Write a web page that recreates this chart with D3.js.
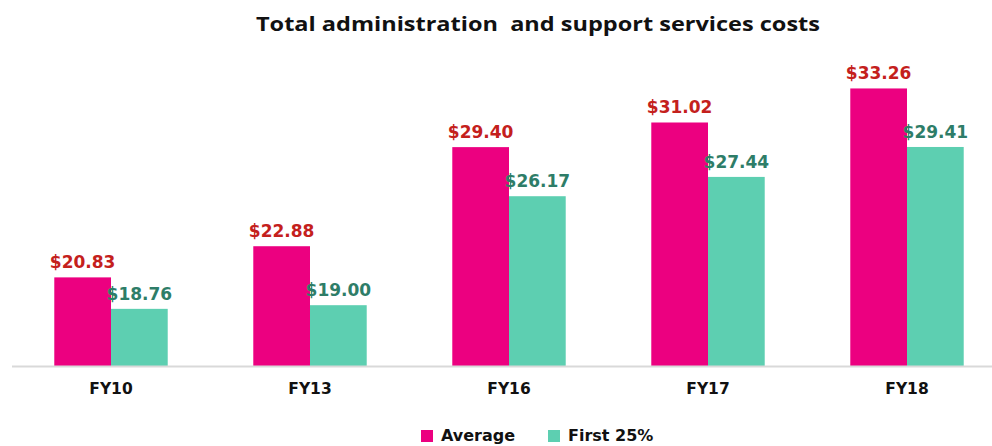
<!DOCTYPE html>
<html>
<head>
<meta charset="utf-8">
<script src="https://cdn.jsdelivr.net/npm/d3@7/dist/d3.min.js"></script>
<style>
  html, body { margin: 0; padding: 0; background: #fff; }
  svg { display: block; }
</style>
</head>
<body>
<svg id="chart" width="992" height="446"></svg>
<script>
const categories = ["FY10", "FY13", "FY16", "FY17", "FY18"];
const seriesNames = ["Average", "First 25%"];
const averageValues = [20.83, 22.88, 29.40, 31.02, 33.26];
const first25Values = [18.76, 19.00, 26.17, 27.44, 29.41];
const seriesColors = ["#EC0080", "#5DCFB1"];
const labelColors = ["#C4201C", "#2E7D68"];
const titleText = "Total administration  and support services costs";

const seriesValues = [averageValues, first25Values];
const svg = d3.select("#chart");
const W = 992, H = 446;

const x = d3.scaleBand().domain(categories).range([11.5, 1006.5])
  .paddingInner(0.43).paddingOuter(0.215);
const xs = d3.scaleBand().domain(seriesNames).range([0, x.bandwidth()]).padding(0);
const y = d3.scaleLinear().domain([15, 35]).range([366, 62]);

// title
svg.append("text")
  .attr("x", 538).attr("y", 31)
  .attr("text-anchor", "middle")
  .attr("font-family", "'Open Sans', sans-serif")
  .attr("font-weight", "bold")
  .attr("font-size", 20)
  .attr("fill", "#111")
  .attr("textLength", 564)
  .attr("lengthAdjust", "spacingAndGlyphs")
  .attr("xml:space", "preserve")
  .style("white-space", "pre")
  .text(titleText);

// bars
const groups = svg.append("g").selectAll("g")
  .data(categories).join("g")
  .attr("transform", d => `translate(${x(d)},0)`);

seriesNames.forEach((s, si) => {
  groups.append("rect")
    .attr("x", xs(s))
    .attr("width", xs.bandwidth())
    .attr("y", (d, i) => y(seriesValues[si][i]))
    .attr("height", (d, i) => y(15) - y(seriesValues[si][i]))
    .attr("fill", seriesColors[si]);
  groups.append("text")
    .attr("x", xs(s) + xs.bandwidth() / 2)
    .attr("y", (d, i) => y(seriesValues[si][i]) - 9)
    .attr("text-anchor", "middle")
    .attr("font-family", "'DejaVu Sans', sans-serif")
    .attr("font-weight", "bold")
    .attr("font-size", 17)
    .attr("fill", labelColors[si])
    .text((d, i) => "$" + seriesValues[si][i].toFixed(2));
});

// baseline
svg.append("line")
  .attr("x1", 12).attr("x2", W)
  .attr("y1", y(15) + 0.5).attr("y2", y(15) + 0.5)
  .attr("stroke", "#d9d9d9").attr("stroke-width", 2);

// x axis labels
const xAxis = d3.axisBottom(x).tickSize(0).tickPadding(0);
const axG = svg.append("g").attr("transform", `translate(0,${394})`).call(xAxis);
axG.select(".domain").remove();
axG.selectAll("text")
  .attr("dy", 0).attr("y", 0)
  .attr("font-family", "'DejaVu Sans', sans-serif")
  .attr("font-weight", "bold")
  .attr("font-size", 15.5)
  .attr("fill", "#111");

// legend
const legendX = [421, 548];
const legend = svg.append("g");
seriesNames.forEach((s, si) => {
  legend.append("rect")
    .attr("x", legendX[si]).attr("y", 430)
    .attr("width", 12).attr("height", 12)
    .attr("fill", seriesColors[si]);
  legend.append("text")
    .attr("x", legendX[si] + 20).attr("y", 441)
    .attr("font-family", "'DejaVu Sans', sans-serif")
    .attr("font-weight", "bold")
    .attr("font-size", 16)
    .attr("fill", "#111")
    .text(s);
});
</script>
</body>
</html>
